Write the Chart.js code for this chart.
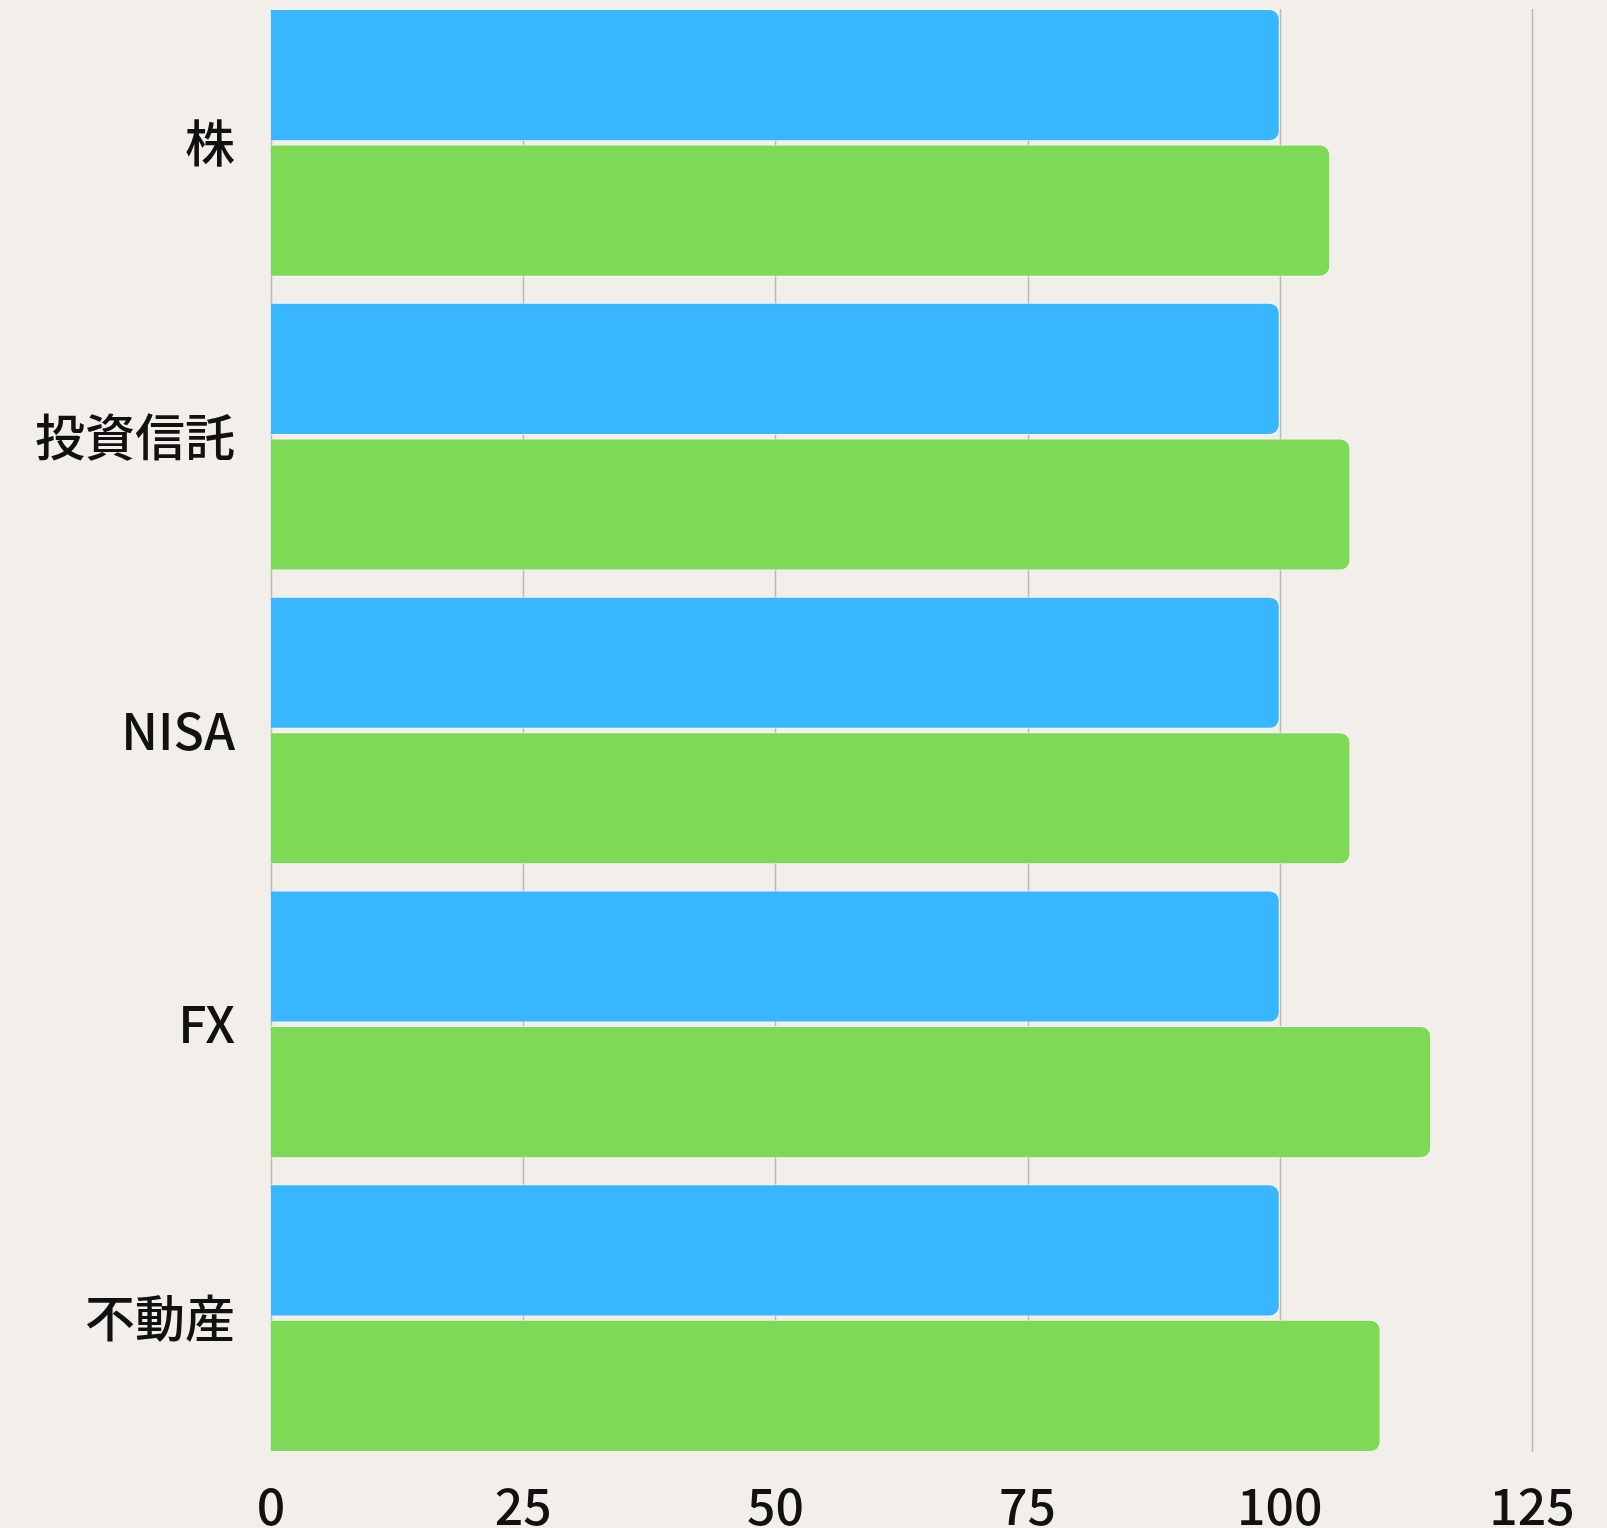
<!DOCTYPE html>
<html>
<head>
<meta charset="utf-8">
<script src="https://cdn.jsdelivr.net/npm/chart.js@4"></script>
<style>
  html, body { margin: 0; padding: 0; background: #F2EFEA; overflow: hidden; }
  body { width: 1607px; height: 1528px; position: relative; }
  #wrap { position: absolute; left: -1px; top: -70px; width: 1608px; height: 1617px; }
</style>
</head>
<body>
<div id="wrap"><canvas id="investChart"></canvas></div>
<script>
(function() {
  'use strict';

  const categories = ['株', '投資信託', 'NISA', 'FX', '不動産']
  const baseValues = [100, 100, 100, 100, 100]
  const compareValues = [105, 107, 107, 115, 110]
  const xTicks = [0, 25, 50, 75, 100, 125]

  const fontFamily = '"Noto Sans CJK JP", "Noto Sans", sans-serif'

  // gridlines only span the bars, not the whole chart area
  const barGrid = {
    id: 'barGrid',
    beforeDatasetsDraw(chart) {
      const first = chart.getDatasetMeta(0).data[0]
      const lastMeta = chart.getDatasetMeta(1).data
      const last = lastMeta[lastMeta.length - 1]
      if (!first || !last) return
      const top = first.y - first.height / 2
      const bottom = last.y + last.height / 2
      const xScale = chart.scales.x
      const ctx = chart.ctx
      ctx.save()
      ctx.strokeStyle = '#bcb9b4'
      ctx.lineWidth = 1.5
      xTicks.forEach(v => {
        const x = Math.round(xScale.getPixelForValue(v)) + 0.5
        ctx.beginPath()
        ctx.moveTo(x, top)
        ctx.lineTo(x, bottom)
        ctx.stroke()
      })
      ctx.restore()
    }
  }

  const ctx = document.getElementById('investChart').getContext('2d')
  // eslint-disable-next-line no-undef
  new Chart(ctx, {
    type: 'bar',
    data: {
      labels: categories,
      datasets: [
        {
          label: '基準',
          data: baseValues,
          backgroundColor: '#38B6FF',
          borderColor: 'rgba(255,255,255,0.7)',
          borderWidth: 1,
          borderRadius: 10,
          categoryPercentage: 0.9226,
          barPercentage: 0.975
        },
        {
          label: '比較',
          data: compareValues,
          backgroundColor: '#7ED957',
          borderColor: 'rgba(255,255,255,0.7)',
          borderWidth: 1,
          borderRadius: 10,
          categoryPercentage: 0.9226,
          barPercentage: 0.975
        }
      ]
    },
    options: {
      indexAxis: 'y',
      responsive: true,
      maintainAspectRatio: false,
      animation: false,
      layout: {
        padding: { left: 0, right: 75, top: 0, bottom: 0 }
      },
      plugins: {
        legend: { display: false },
        tooltip: { enabled: false }
      },
      scales: {
        x: {
          min: 0,
          max: 125,
          border: { display: false },
          grid: { display: false, drawTicks: false },
          ticks: {
            stepSize: 25,
            padding: 11,
            color: '#111',
            font: { family: fontFamily, size: 50, weight: 500 }
          }
        },
        y: {
          border: { display: false },
          grid: { display: false, drawTicks: false },
          ticks: {
            padding: 36,
            color: '#111',
            font: { family: fontFamily, size: 50, weight: 500 }
          }
        }
      }
    },
    plugins: [barGrid]
  })
})();
</script>
</body>
</html>
